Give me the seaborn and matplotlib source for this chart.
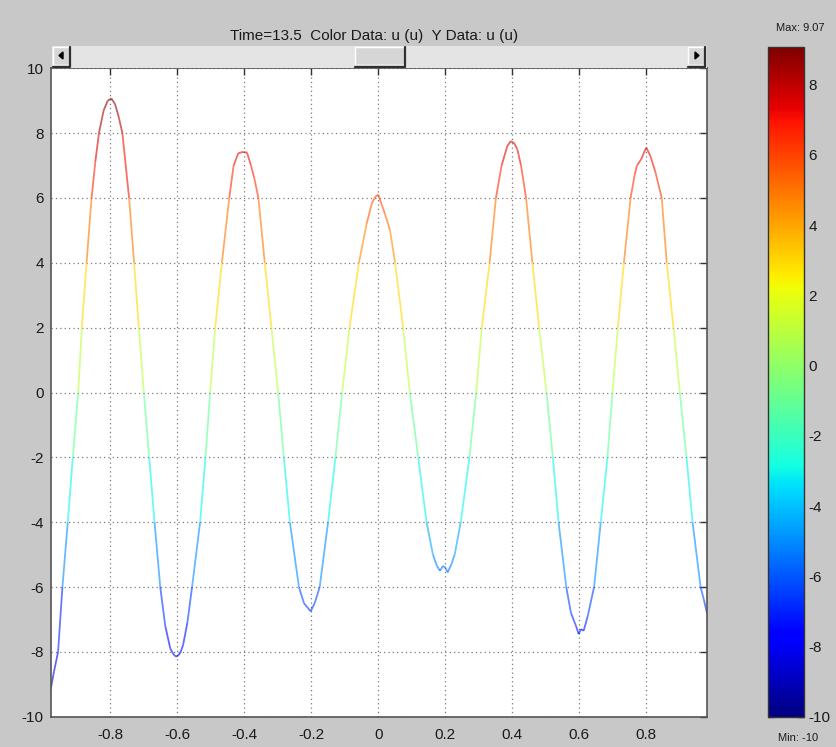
import numpy as np
import matplotlib
matplotlib.use("Agg")
import matplotlib.pyplot as plt
import seaborn as sns
from matplotlib.collections import LineCollection
from matplotlib.patches import Rectangle, Polygon
import matplotlib.colors as mcolors
import matplotlib.cm as cm

# values
x_pos = [-0.978, -0.968, -0.956, -0.943, -0.927, -0.912, -0.896, -0.885, -0.871, -0.856,
         -0.845, -0.834, -0.820, -0.808, -0.797, -0.786, -0.775, -0.764, -0.744, -0.729,
         -0.715, -0.700, -0.684, -0.668, -0.651, -0.636, -0.621, -0.610, -0.602, -0.592,
         -0.583, -0.570, -0.556, -0.532, -0.516, -0.502, -0.487, -0.467, -0.445, -0.432,
         -0.418, -0.405, -0.392, -0.380, -0.370, -0.358, -0.339, -0.319, -0.299, -0.282,
         -0.264, -0.237, -0.222, -0.210, -0.202, -0.190, -0.175, -0.150, -0.128, -0.108,
         -0.086, -0.058, -0.035, -0.019, -0.008, 0.000, 0.010, 0.020, 0.035, 0.050,
         0.074, 0.094, 0.119, 0.144, 0.163, 0.175, 0.184, 0.193, 0.200, 0.207,
         0.218, 0.228, 0.246, 0.272, 0.292, 0.309, 0.332, 0.351, 0.368, 0.385,
         0.395, 0.405, 0.415, 0.426, 0.441, 0.460, 0.480, 0.502, 0.521, 0.538,
         0.561, 0.575, 0.590, 0.598, 0.605, 0.613, 0.625, 0.644, 0.664, 0.684,
         0.699, 0.715, 0.733, 0.753, 0.765, 0.772, 0.785, 0.795, 0.800, 0.812,
         0.827, 0.846, 0.861, 0.881, 0.900, 0.920, 0.938, 0.962, 0.972, 0.982]
u_val = [-9.15, -8.6, -8.0, -6.0, -4.0, -2.0, 0.0, 2.0, 4.0, 6.0,
         7.1, 8.0, 8.7, 9.0, 9.07, 8.9, 8.5, 8.0, 6.0, 4.0,
         2.0, 0.0, -2.0, -4.0, -6.0, -7.2, -7.9, -8.1, -8.15, -8.05,
         -7.8, -7.1, -6.0, -4.0, -2.0, 0.0, 2.0, 4.0, 6.0, 7.0,
         7.38, 7.42, 7.4, 7.0, 6.6, 6.0, 4.0, 2.0, 0.0, -2.0,
         -4.0, -6.0, -6.5, -6.65, -6.75, -6.5, -6.0, -4.0, -2.0, 0.0,
         2.0, 4.0, 5.2, 5.85, 6.05, 6.1, 5.8, 5.5, 5.0, 4.0,
         2.0, 0.0, -2.0, -4.0, -5.0, -5.35, -5.5, -5.35, -5.4, -5.55,
         -5.3, -5.0, -4.0, -2.0, 0.0, 2.0, 4.0, 6.0, 7.0, 7.6,
         7.75, 7.7, 7.5, 7.0, 6.0, 4.0, 2.0, 0.0, -2.0, -4.0,
         -6.0, -6.8, -7.2, -7.45, -7.3, -7.35, -6.9, -6.0, -4.0, -2.0,
         0.0, 2.0, 4.0, 6.0, 6.7, 7.0, 7.2, 7.45, 7.55, 7.3,
         6.8, 6.0, 4.0, 2.0, 0.0, -2.0, -4.0, -6.0, -6.4, -6.85]

x_ticks = [-0.8, -0.6, -0.4, -0.2, 0, 0.2, 0.4, 0.6, 0.8]
x_labels = ["-0.8", "-0.6", "-0.4", "-0.2", "0", "0.2", "0.4", "0.6", "0.8"]
y_ticks = [-10, -8, -6, -4, -2, 0, 2, 4, 6, 8, 10]
cbar_ticks = [-10, -8, -6, -4, -2, 0, 2, 4, 6, 8]
u_min, u_max = -10, 9.07
title_txt = "Time=13.5  Color Data: u (u)  Y Data: u (u)"

sns.set_style("white")
plt.rcParams["font.family"] = ["Liberation Sans", "DejaVu Sans"]
plt.rcParams["axes.unicode_minus"] = False

W, H = 837, 747
fig = plt.figure(figsize=(W / 100, H / 100), dpi=100)
fig.patch.set_facecolor("#c8c8c8")

# main axes
ax = fig.add_axes([50.7 / W, 30.3 / H, 656.6 / W, 648.4 / H])
ax.set_facecolor("white")
cmap = matplotlib.colormaps["jet"]
norm = mcolors.Normalize(vmin=u_min, vmax=u_max)

pts = np.column_stack([x_pos, u_val])
segs = np.stack([pts[:-1], pts[1:]], axis=1)
u_arr = np.array(u_val)
lc = LineCollection(segs, cmap=cmap, norm=norm, linewidths=1.3, alpha=0.6)
lc.set_array((u_arr[:-1] + u_arr[1:]) / 2)
ax.add_collection(lc)

ax.set_xlim(-0.978, 0.982)
ax.set_ylim(-10, 10)
ax.set_xticks(x_ticks)
ax.set_xticklabels(x_labels)
ax.set_yticks(y_ticks)
ax.grid(True, color="#7a7a7a", linestyle=(0, (1, 2.5)), linewidth=0.9)
ax.tick_params(direction="in", length=5, width=1, colors="#333333", labelsize=11,
               top=True, right=True, pad=5)
ax.tick_params(axis="x", pad=8)
for lbl in ax.get_xticklabels() + ax.get_yticklabels():
    lbl.set_color("#1a1a1a")
for sp in ax.spines.values():
    sp.set_color("#555555")
    sp.set_linewidth(1.2)

# scrollbar strip on top of the plot area
sb = fig.add_axes([52 / W, (H - 68) / H, 655 / W, 22 / H])
sb.set_xlim(0, 655)
sb.set_ylim(0, 22)
sb.set_facecolor("#e4e4e4")
sb.set_xticks([])
sb.set_yticks([])
for sp in sb.spines.values():
    sp.set_visible(False)


def button(x0, w, arrow=None):
    sb.add_patch(Rectangle((x0, 4), w, 17, facecolor="#d6d6d6", edgecolor="none"))
    sb.plot([x0, x0, x0 + w], [4, 21, 21], color="white", lw=1)
    sb.plot([x0, x0 + w, x0 + w], [1.5, 1.5, 21], color="#303030", lw=1.6)
    if arrow == "left":
        sb.add_patch(Polygon([(x0 + 6, 12.5), (x0 + 10, 9), (x0 + 10, 16)], color="black"))
    elif arrow == "right":
        sb.add_patch(Polygon([(x0 + w - 6, 12.5), (x0 + w - 10, 9), (x0 + w - 10, 16)], color="black"))


button(1, 17, "left")
button(303, 50)
button(636, 17, "right")

fig.text(374 / W, 1 - 36 / H, title_txt, ha="center", va="center", fontsize=11, color="#1a1a1a")

# colorbar
cax = fig.add_axes([768 / W, 30 / H, 36 / W, 670 / H])
sm = cm.ScalarMappable(norm=norm, cmap=cmap)
cb = fig.colorbar(sm, cax=cax, ticks=cbar_ticks)
cb.outline.set_edgecolor("#333333")
cb.outline.set_linewidth(1)
cax.tick_params(direction="in", length=4, width=1, colors="#333333", labelsize=11,
                left=True, right=True, pad=3)
for lbl in cax.get_yticklabels():
    lbl.set_color("#1a1a1a")
fig.text(800 / W, 1 - 28 / H, "Max: 9.07", ha="center", va="center", fontsize=8, color="#1a1a1a")
fig.text(798 / W, 1 - 738 / H, "Min: -10", ha="center", va="center", fontsize=8, color="#1a1a1a")

fig.savefig("out.png", dpi=100, facecolor=fig.get_facecolor())
